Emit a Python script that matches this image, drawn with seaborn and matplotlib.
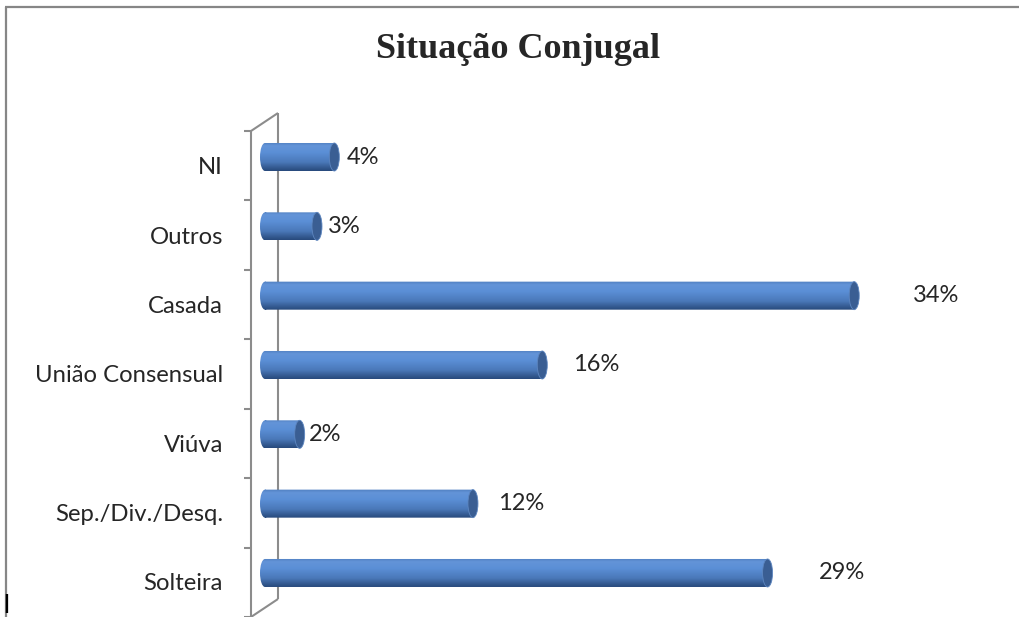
import numpy as np
import matplotlib
matplotlib.use("Agg")
import matplotlib.pyplot as plt
import matplotlib.transforms as mtransforms
from matplotlib.path import Path
from matplotlib.patches import PathPatch, Ellipse
from matplotlib.lines import Line2D
from matplotlib.colors import LinearSegmentedColormap
import seaborn as sns
import pandas as pd

# ---- data ----
categories = ["NI", "Outros", "Casada", "União Consensual", "Viúva", "Sep./Div./Desq.", "Solteira"]
values = [4, 3, 34, 16, 2, 12, 29]
value_labels = ["4%", "3%", "34%", "16%", "2%", "12%", "29%"]
title = "Situação Conjugal"

df = pd.DataFrame({"cat": categories, "val": values})

sns.set_style("white")
plt.rcParams["font.family"] = ["Lato", "DejaVu Sans"]

W, H = 1019, 617
fig = plt.figure(figsize=(W / 100, H / 100), dpi=100)
fig.patch.set_facecolor("white")

# pixel geometry helpers
PX0 = 265.0        # pixel x of value 0
S = 17.33          # pixels per unit
AX_L, AX_R = 230, 1010
AX_T, AX_B = 100, 617
C0, DC = 157.0, 69.33  # bar centre pixel of first category, spacing

ax = fig.add_axes([AX_L / W, 1 - AX_B / H, (AX_R - AX_L) / W, (AX_B - AX_T) / H])
ax.set_facecolor("none")

sns.barplot(data=df, x="val", y="cat", orient="h", width=0.404, color="#4f81bd",
            ax=ax, zorder=3, saturation=1)

ax.set_xlim((AX_L - PX0) / S, (AX_R - PX0) / S)
ax.set_ylim((AX_B - C0) / DC, (AX_T - C0) / DC)

for s in ax.spines.values():
    s.set_visible(False)
ax.set_xticks([])
ax.set_xlabel("")
ax.set_ylabel("")
ax.tick_params(axis="y", length=0, pad=5, labelsize=17.2, labelcolor="#262626")
offset = mtransforms.ScaledTranslation(0, -9 / 100, fig.dpi_scale_trans)
for lab in ax.get_yticklabels():
    lab.set_transform(lab.get_transform() + offset)

# gradient for cylinders
cmap = LinearSegmentedColormap.from_list("cyl", [
    (0.0, "#4f7fc0"), (0.12, "#6394d8"), (0.35, "#5b8fd6"),
    (0.7, "#4a78b8"), (0.9, "#33588f"), (1.0, "#284a7c")])
grad = np.linspace(0, 1, 64).reshape(-1, 1)
cap_w = 10 / S

for p in list(ax.patches):
    x0, y0 = p.get_x(), p.get_y()
    w, h = p.get_width(), p.get_height()
    p.set_visible(False)
    rect = Path.unit_rectangle().transformed(mtransforms.Affine2D().scale(w, h).translate(x0, y0))
    ell = Path.unit_circle().transformed(
        mtransforms.Affine2D().scale(cap_w / 2, h / 2).translate(x0, y0 + h / 2))
    comp = Path.make_compound_path(rect, ell)
    clip = PathPatch(comp, transform=ax.transData, facecolor="none", edgecolor="none")
    ax.add_patch(clip)
    im = ax.imshow(grad, extent=[x0 - cap_w / 2, x0 + w, y0 + h, y0], aspect="auto",
                   cmap=cmap, zorder=3, interpolation="bilinear")
    im.set_clip_path(clip)
    cap = Ellipse((x0 + w, y0 + h / 2), cap_w, h, facecolor="#3a5e93",
                  edgecolor="#5d86c0", lw=0.6, zorder=4)
    ax.add_patch(cap)

ax.set_xlim((AX_L - PX0) / S, (AX_R - PX0) / S)
ax.set_ylim((AX_B - C0) / DC, (AX_T - C0) / DC)

# value labels
for i, (v, t) in enumerate(zip(values, value_labels)):
    ax.text(v * 1.09 + 0.35, i, t, ha="left", va="center", fontsize=17,
            color="#262626", zorder=5)

# pixel transform (top-left origin) for decorations
pix = mtransforms.Affine2D().scale(1 / W, -1 / H).translate(0, 1) + fig.transFigure

def pline(xs, ys, **kw):
    ln = Line2D(xs, ys, transform=pix, clip_on=False, **kw)
    ax.add_line(ln)

wall = dict(color="#8c8c8c", lw=1.5, zorder=1, solid_capstyle="butt")
pline([251, 251], [131, 617], **wall)
pline([278, 278], [113, 599], **wall)
pline([251, 278], [131, 113], **wall)
pline([278, 251], [599, 617], **wall)
for k in range(8):
    y = 131 + 69.43 * k
    pline([244, 251], [y, y], **wall)

# outer frame
frame = dict(color="#868686", lw=1.6, zorder=1, solid_capstyle="butt")
pline([5.5, 1019], [7, 7], **frame)
pline([6, 6], [7, 617], **frame)

# title
fig.text(518 / W, 1 - 49 / H, title, ha="center", va="center", fontsize=26,
         fontweight="bold", family=["Liberation Serif", "DejaVu Serif"])

# stray glyph bottom-left
fig.text(3 / W, 1 - 613 / H, "l", ha="left", va="baseline", fontsize=19,
         family=["Liberation Sans", "DejaVu Sans"], color="black")

fig.savefig("out.png", dpi=100)
